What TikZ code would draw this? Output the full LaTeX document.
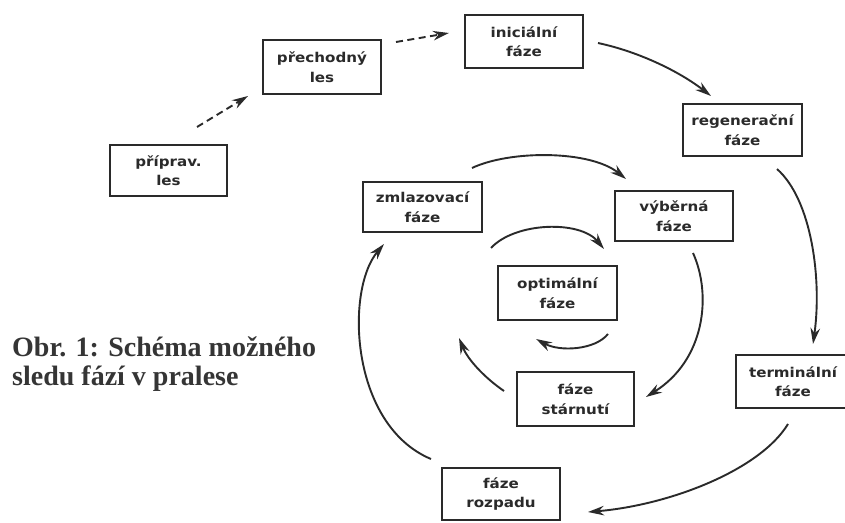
\documentclass[tikz,border=0pt]{standalone}
\usepackage{fontspec}
\setmainfont{Liberation Serif}
\newfontfamily\boxfont[FakeStretch=1.12]{DejaVu Sans Bold}
\usetikzlibrary{arrows.meta}
\definecolor{ink}{HTML}{2A2A2A}
\definecolor{captionink}{HTML}{353535}
\begin{document}
\begin{tikzpicture}[x=1pt,y=-1pt,
  phase/.style={draw=ink, line width=2pt, minimum width=118pt, minimum height=53pt,
    inner sep=0pt, align=center, text=ink, font=\boxfont\fontsize{13.5}{19.5}\selectfont},
  flow/.style={draw=ink, line width=1.9pt, -{Stealth[length=16pt,width=9.5pt]}},
  dflow/.style={flow, dash pattern=on 7pt off 4.5pt}]
\useasboundingbox (0,0) rectangle (845,522);
\fill[white] (0,0) rectangle (845,522);

% boxes
\node[phase, minimum width=117pt, minimum height=51pt] (prip) at (168.5,170.5) {příprav.\\les};
\node[phase, minimum height=54pt] (prech) at (322,67) {přechodný\\les};
\node[phase] (inic) at (524,41.5) {iniciální\\fáze};
\node[phase, minimum width=119pt, minimum height=52pt] (regen) at (742.5,130) {regenerační\\fáze};
\node[phase, minimum height=50pt] (vyber) at (674,216) {výběrná\\fáze};
\node[phase, minimum width=119pt, minimum height=50pt] (zmlaz) at (422.5,207) {zmlazovací\\fáze};
\node[phase, minimum width=119pt, minimum height=54pt] (optim) at (557.5,293) {optimální\\fáze};
\node[phase, minimum width=117pt, minimum height=54pt] (starn) at (575.5,399) {fáze\\stárnutí};
\node[phase, minimum width=114pt] (termin) at (793,381.5) {terminální\\fáze};
\node[phase, minimum height=52pt] (rozp) at (501,494) {fáze\\rozpadu};

% caption
\node[anchor=base west, align=left, inner sep=0pt, text=captionink,
  font=\fontsize{28}{29}\selectfont\bfseries] (cap) at (12,385)
  {Obr. 1: Schéma možného\\sledu fází v pralese};

% dashed arrows
\draw[dflow] ([shift={(28.5,-17)}]prip.north) -- ([shift={(-14,1)}]prech.south west);
\draw[dflow] ([shift={(14,3)}]prech.north east) -- ([shift={(-15,-8.5)}]inic.west);

% outer cycle
\draw[flow] ([shift={(14,1.5)}]inic.east) .. controls (640,52) and (680,72) .. ([shift={(29,-7)}]regen.north west);
\draw[flow] ([shift={(34.5,12)}]regen.south) .. controls (812,200) and (822,280) .. ([shift={(20,-10)}]termin.north);
\draw[flow] ([shift={(-5,15)}]termin.south) .. controls (760,470) and (670,505) .. ([shift={(27,18)}]rozp.east);
\draw[flow] ([shift={(-10,-8)}]rozp.north west) .. controls (350,425) and (345,290) .. ([shift={(22,11)}]zmlaz.south west);

% middle cycle
\draw[flow] ([shift={(-11,-13)}]zmlaz.north east) .. controls (510,150) and (590,150) .. ([shift={(12,-11)}]vyber.north west);
\draw[flow] ([shift={(19,11)}]vyber.south) .. controls (712,295) and (705,360) .. ([shift={(11,-2)}]starn.east);
\draw[flow] ([shift={(-12,-8)}]starn.west) .. controls (485,378) and (468,360) .. ([shift={(-38,17)}]optim.south west);

% inner cycle
\draw[flow] ([shift={(-6,-17)}]optim.north west) .. controls (515,222) and (580,220) .. ([shift={(-14,-16)}]optim.north east);
\draw[flow] ([shift={(-10,13)}]optim.south east) .. controls (595,350) and (560,352) .. ([shift={(39,18)}]optim.south west);
\end{tikzpicture}
\end{document}
